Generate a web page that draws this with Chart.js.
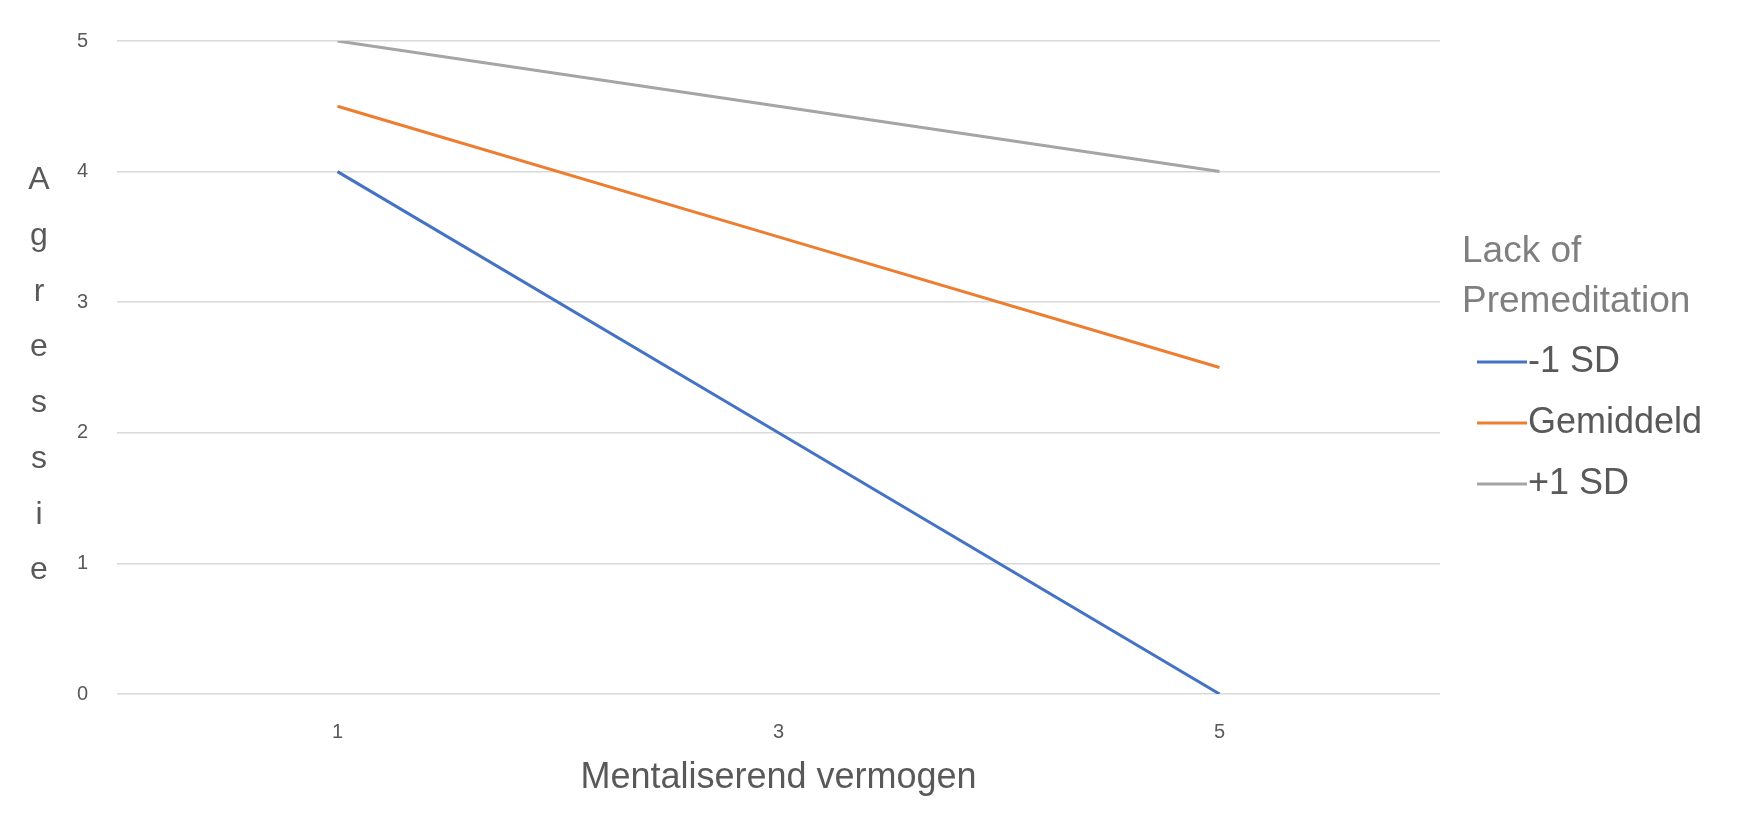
<!DOCTYPE html>
<html>
<head>
<meta charset="utf-8">
<title>Agressie</title>
<script src="https://cdn.jsdelivr.net/npm/chart.js@4.4.1/dist/chart.umd.min.js"></script>
<style>
  html, body { margin: 0; padding: 0; background: #ffffff; }
  #wrap { width: 1737px; height: 818px; position: relative; }
</style>
</head>
<body>
<div id="wrap"><canvas id="myChart"></canvas></div>
<script>
// data
const categories = ['1', '3', '5'];
const minSD = [4, 2, 0];
const gemiddeld = [4.5, 3.5, 2.5];
const plusSD = [5, 4.5, 4];
const seriesNames = ['-1 SD', 'Gemiddeld', '+1 SD'];
const legendTitle = ['Lack of', 'Premeditation'];
const yTitle = 'Agressie';
const xTitle = 'Mentaliserend vermogen';

const FONT = '"Liberation Sans", Arial, sans-serif';

// stacked letters for the y axis title, Excel style
const yTitlePlugin = {
    id: 'yTitleStacked',
    afterDraw(chart) {
        const ctx = chart.ctx;
        const area = chart.chartArea;
        const step = 55.7;
        const letters = yTitle.split('');
        const mid = (area.top + area.bottom) / 2 + 8;
        const start = mid - step * (letters.length - 1) / 2;
        ctx.save();
        ctx.fillStyle = '#595959';
        ctx.font = '32px ' + FONT;
        ctx.textAlign = 'center';
        ctx.textBaseline = 'middle';
        letters.forEach(function(ch, i) {
            ctx.fillText(ch, 39, start + i * step);
        });
        ctx.restore();
    }
};

// legend on the right with a two line title
const legendPlugin = {
    id: 'sideLegend',
    afterDraw(chart) {
        const ctx = chart.ctx;
        const x0 = chart.chartArea.right + 22;
        ctx.save();
        ctx.textBaseline = 'middle';
        ctx.textAlign = 'left';
        ctx.font = '37px ' + FONT;
        ctx.fillStyle = '#7f7f7f';
        ctx.fillText(legendTitle[0], x0, 252);
        ctx.fillText(legendTitle[1], x0, 302);
        ctx.font = '36px ' + FONT;
        chart.data.datasets.forEach(function(ds, i) {
            const y = 362 + i * 61;
            ctx.strokeStyle = ds.borderColor;
            ctx.lineWidth = 3;
            ctx.beginPath();
            ctx.moveTo(x0 + 15, y);
            ctx.lineTo(x0 + 65, y);
            ctx.stroke();
            ctx.fillStyle = '#595959';
            ctx.fillText(ds.label, x0 + 66, y);
        });
        ctx.restore();
    }
};

document.addEventListener('DOMContentLoaded', function() {
    const ctx = document.getElementById('myChart').getContext('2d');
    new Chart(ctx, {
        type: 'line',
        plugins: [yTitlePlugin, legendPlugin],
        data: {
            labels: categories,
            datasets: [
                { label: seriesNames[0], data: minSD, borderColor: '#4472C4' },
                { label: seriesNames[1], data: gemiddeld, borderColor: '#ED7D31' },
                { label: seriesNames[2], data: plusSD, borderColor: '#A5A5A5' }
            ]
        },
        options: {
            responsive: true,
            maintainAspectRatio: false,
            animation: false,
            devicePixelRatio: 1,
            layout: { padding: { top: 35, right: 297, left: 0, bottom: 0 } },
            elements: {
                line: { borderWidth: 3, tension: 0, fill: false },
                point: { radius: 0, hoverRadius: 0 }
            },
            plugins: {
                legend: { display: false },
                tooltip: { enabled: false }
            },
            scales: {
                x: {
                    type: 'category',
                    offset: true,
                    grid: { display: false },
                    border: { display: false },
                    ticks: { color: '#595959', padding: 18, font: { family: FONT, size: 20 } },
                    title: {
                        display: true,
                        text: xTitle,
                        color: '#595959',
                        font: { family: FONT, size: 36 },
                        padding: { top: 0, bottom: 18 }
                    },
                    afterFit: function(scale) { scale.height = 124; }
                },
                y: {
                    min: 0,
                    max: 5,
                    grid: { color: '#d9d9d9', lineWidth: 1.5, drawTicks: false },
                    border: { display: false },
                    ticks: { stepSize: 1, color: '#595959', padding: 29, font: { family: FONT, size: 20 } },
                    afterFit: function(scale) { scale.width = 117; }
                }
            }
        }
    });
});
</script>
</body>
</html>
